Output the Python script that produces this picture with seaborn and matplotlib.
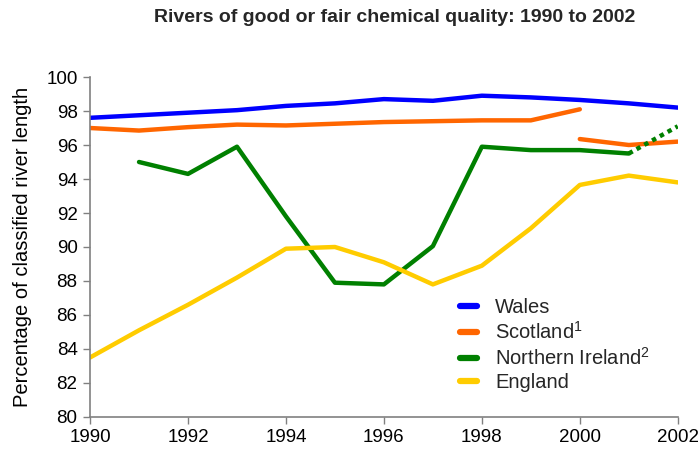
import numpy as np
import pandas as pd
import seaborn as sns
import matplotlib.pyplot as plt
from matplotlib.lines import Line2D

# Data
years = list(range(1990, 2003))
wales = [97.6, 97.75, 97.9, 98.05, 98.3, 98.45, 98.7, 98.6, 98.9, 98.8, 98.65, 98.45, 98.2]
scotland_old = [97.0, 96.85, 97.05, 97.2, 97.15, 97.25, 97.35, 97.4, 97.45, 97.45, 98.1]
scotland_new_years = [2000, 2001, 2002]
scotland_new = [96.35, 96.0, 96.2]
ni_years = list(range(1991, 2002))
ni = [95.0, 94.3, 95.9, 91.8, 87.9, 87.8, 90.05, 95.9, 95.7, 95.7, 95.5]
ni_est_years = [2001, 2002]
ni_est = [95.5, 97.1]
england = [83.5, 85.1, 86.6, 88.2, 89.9, 90.0, 89.1, 87.8, 88.9, 91.1, 93.65, 94.2, 93.8]

c_wales = "#0000FF"
c_scot = "#FF6600"
c_ni = "#008000"
c_eng = "#FFCC00"

sns.set_theme(style="white")
plt.rcParams['font.family'] = ['Liberation Sans', 'DejaVu Sans']

fig = plt.figure(figsize=(6.98, 4.53), dpi=100)
ax = fig.add_axes([0.129, 0.0795, 0.842, 0.7505])

lw = 3.2
sns.lineplot(x=years, y=wales, ax=ax, color=c_wales, lw=lw)
sns.lineplot(x=years[:len(scotland_old)], y=scotland_old, ax=ax, color=c_scot, lw=lw)
sns.lineplot(x=scotland_new_years, y=scotland_new, ax=ax, color=c_scot, lw=lw)
sns.lineplot(x=ni_years, y=ni, ax=ax, color=c_ni, lw=lw)
sns.lineplot(x=ni_est_years, y=ni_est, ax=ax, color=c_ni, lw=lw, linestyle=(0, (1, 1)))
sns.lineplot(x=years, y=england, ax=ax, color=c_eng, lw=lw)

ax.set_xlim(1990, 2002)
ax.set_ylim(80, 100)
ax.set_xticks(range(1990, 2003, 2))
ax.set_yticks(range(80, 101, 2))
ax.tick_params(axis='both', labelsize=13.5, labelcolor='black', color='#808080',
               length=5, width=1, direction='out', left=True, bottom=True, pad=4)
for s in ['top', 'right']:
    ax.spines[s].set_visible(False)
for s in ['left', 'bottom']:
    ax.spines[s].set_color('#808080')
    ax.spines[s].set_linewidth(1.2)

ax.set_ylabel("Percentage of classified river length", fontsize=14.5, color='black',
              labelpad=10)
fig.suptitle("Rivers of good or fair chemical quality: 1990 to 2002",
             x=0.565, y=0.98, fontsize=14, fontweight='bold')

handles = [Line2D([], [], color=c, lw=4.5) for c in [c_wales, c_scot, c_ni, c_eng]]
labels = ["Wales", "Scotland$^{\\mathregular{1}}$", "Northern Ireland$^{\\mathregular{2}}$", "England"]
ax.legend(handles, labels, loc='upper left', bbox_to_anchor=(0.629, 0.35),
          frameon=False, fontsize=14.5, handlelength=0.85, handletextpad=0.9,
          labelspacing=0.2, borderaxespad=0, borderpad=0)

fig.savefig("out.png", dpi=100)
